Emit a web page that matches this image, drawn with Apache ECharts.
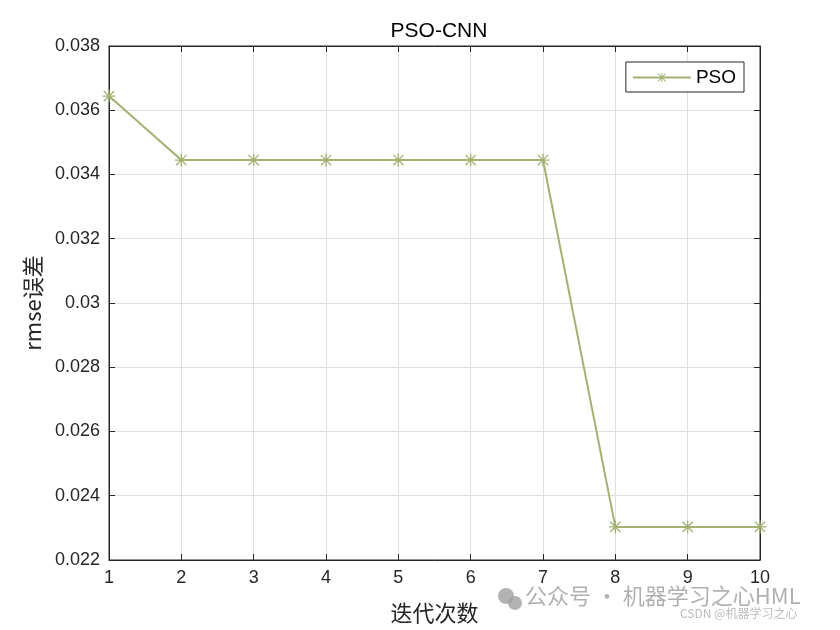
<!DOCTYPE html>
<html>
<head>
<meta charset="utf-8">
<script src="https://cdn.jsdelivr.net/npm/echarts@6/dist/echarts.min.js"></script>
<style>html,body{margin:0;padding:0;background:#fff}#c{width:840px;height:630px}</style>
</head>
<body>
<div id="c"></div>
<script>
const iterations = [1, 2, 3, 4, 5, 6, 7, 8, 9, 10];
const rmseValues = [0.03644, 0.03445, 0.03445, 0.03445, 0.03445, 0.03445, 0.03445, 0.02303, 0.02303, 0.02303];
const seriesName = 'PSO';
const titleText = 'PSO-CNN';
const xName = '迭代次数';
const yName = 'rmse误差';

const star = 'path://M9 0H11V20H9Z M0 9H20V11H0Z M1.4 2.8L2.8 1.4L18.6 17.2L17.2 18.6Z M17.2 1.4L18.6 2.8L2.8 18.6L1.4 17.2Z';
const lineColor = '#a3b272';
const axisColor = '#262626';
const font = '"Liberation Sans", Arial, sans-serif';

const chart = echarts.init(document.getElementById('c'), null, {renderer: 'canvas'});
chart.setOption({
  backgroundColor: '#fff',
  animation: false,
  title: {
    text: titleText, left: 434, top: 16, textAlign: 'center',
    textStyle: {fontFamily: font, fontSize: 21, fontWeight: 'normal', color: '#000'}
  },
  legend: {
    data: [seriesName],
    right: 96, top: 62,
    itemWidth: 58, itemHeight: 12, itemGap: 4,
    backgroundColor: '#fff', borderColor: axisColor, borderWidth: 1,
    padding: [6, 8, 5, 6],
    textStyle: {fontFamily: font, fontSize: 19, color: '#000'}
  },
  grid: {show: true, borderColor: axisColor, borderWidth: 1, left: 109, right: 80, top: 46, bottom: 70},
  xAxis: [{
    type: 'value', min: 1, max: 10, interval: 1,
    name: xName, nameLocation: 'middle', nameGap: 42,
    nameTextStyle: {fontFamily: '"Noto Sans CJK SC", serif', fontSize: 22, color: '#262626'},
    axisLine: {lineStyle: {color: axisColor}},
    axisTick: {inside: true, length: 6, lineStyle: {color: axisColor}},
    axisLabel: {fontFamily: font, fontSize: 18, color: '#262626', margin: 9},
    splitLine: {show: true, lineStyle: {color: '#dfdfdf'}}
  }, {
    type: 'value', min: 1, max: 10, interval: 1, position: 'top',
    axisLine: {show: true, lineStyle: {color: axisColor}},
    axisTick: {inside: true, length: 6, lineStyle: {color: axisColor}},
    axisLabel: {show: false}, splitLine: {show: false}
  }],
  yAxis: [{
    type: 'value', min: 0.022, max: 0.038, interval: 0.002,
    name: yName, nameLocation: 'middle', nameGap: 64, nameRotate: 90,
    nameTextStyle: {fontFamily: '"Noto Sans CJK SC", sans-serif', fontSize: 22, color: '#262626'},
    axisLine: {show: true, lineStyle: {color: axisColor}},
    axisTick: {show: true, inside: true, length: 6, lineStyle: {color: axisColor}},
    axisLabel: {fontFamily: font, fontSize: 18, color: '#262626', margin: 9,
      formatter: v => String(parseFloat(v.toFixed(3)))},
    splitLine: {show: true, lineStyle: {color: '#dfdfdf'}}
  }, {
    type: 'value', min: 0.022, max: 0.038, interval: 0.002, position: 'right',
    axisLine: {show: true, lineStyle: {color: axisColor}},
    axisTick: {show: true, inside: true, length: 6, lineStyle: {color: axisColor}},
    axisLabel: {show: false}, splitLine: {show: false}
  }],
  series: [{
    name: seriesName, type: 'line',
    data: iterations.map((x, i) => [x, rmseValues[i]]),
    symbol: star, symbolSize: 13, showSymbol: true,
    lineStyle: {color: lineColor, width: 2},
    itemStyle: {color: lineColor},
    clip: false
  }],
  graphic: [
    {type: 'text', left: 525, top: 585, z: 100,
      style: {text: '公众号 · 机器学习之心HML', fill: 'rgba(150,150,150,0.75)', font: '22px "Noto Sans CJK SC", sans-serif'}},
    {type: 'text', left: 680, top: 607, z: 100,
      style: {text: 'CSDN @机器学习之心', fill: 'rgba(170,170,170,0.8)', font: '12px "Noto Sans CJK SC", sans-serif'}},
    {type: 'circle', shape: {cx: 506, cy: 596, r: 8}, style: {fill: 'rgba(160,160,160,0.8)'}, z: 100},
    {type: 'circle', shape: {cx: 515, cy: 603, r: 7}, style: {fill: 'rgba(160,160,160,0.8)'}, z: 100}
  ]
});
</script>
</body>
</html>
